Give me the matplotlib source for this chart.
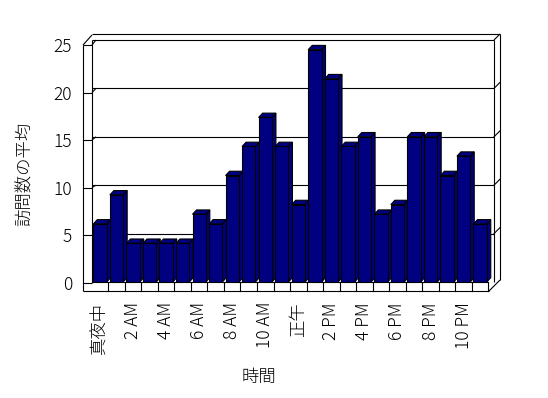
import matplotlib
matplotlib.use('Agg')
import matplotlib.pyplot as plt
from matplotlib.patches import Polygon

# ---- data ----
hours = list(range(24))
tick_labels = ['真夜中', '2 AM', '4 AM', '6 AM', '8 AM', '10 AM',
               '正午', '2 PM', '4 PM', '6 PM', '8 PM', '10 PM']
visits = [6, 9, 4, 4, 4, 4, 7, 6, 11, 14, 17, 14,
          8, 24, 21, 14, 15, 7, 8, 15, 15, 11, 13, 6]
y_ticks = [0, 5, 10, 15, 20, 25]

plt.rcParams['font.family'] = ['Noto Sans CJK JP', 'DejaVu Sans']
plt.rcParams['font.weight'] = 'light'

W, H = 548, 398
fig = plt.figure(figsize=(W / 100, H / 100), dpi=100)
fig.patch.set_facecolor('white')
LW = 0.8
NAVY = '#000080'
FS = 12.5


def fr(x0, y0, x1, y1):
    return [x0 / W, 1 - y1 / H, (x1 - x0) / W, (y1 - y0) / H]


# background frame (pixel coords)
bg = fig.add_axes([0, 0, 1, 1])
bg.set_xlim(0, W)
bg.set_ylim(H, 0)
bg.axis('off')


def seg(p, q):
    bg.plot([p[0], q[0]], [p[1], q[1]], color='black', lw=LW, solid_capstyle='butt')


seg((83, 45), (83, 291))
seg((83, 45), (92, 35))
seg((92, 34), (500, 34))
seg((500, 34), (500, 280))
seg((489, 291), (500, 280))
seg((83, 291), (489, 291))
seg((92, 40), (92, 282))
seg((92, 40), (494, 40))
seg((494, 40), (494, 282))
seg((494, 40), (500, 34))

# main axes = back wall plane
AX_L, AX_T, AX_R, AX_B = 92, 40, 494, 282
ax = fig.add_axes(fr(AX_L, AX_T, AX_R, AX_B))
XMIN, XMAX = -0.484, 23.84
ax.set_xlim(XMIN, XMAX)
ax.set_ylim(0, 25)
ax.set_frame_on(False)
ax.patch.set_visible(False)

px_x = (XMAX - XMIN) / (AX_R - AX_L)   # data x per pixel
px_y = 25 / (AX_B - AX_T)              # data y per pixel

for v in y_ticks[1:-1]:
    ax.plot([XMIN, XMAX], [v, v], color='black', lw=LW, zorder=1)
    ax.plot([XMAX, XMAX + 6 * px_x], [v, v + 6 * px_y], color='black', lw=LW,
            clip_on=False, zorder=1)

# floor strip
strip = 9 * px_y
ax.plot([XMIN, len(hours) - 0.5], [0, 0], color='black', lw=LW, clip_on=False, zorder=1)
for i in hours:
    b = i + 0.5
    ax.plot([b, b], [0, -strip], color='black', lw=LW, clip_on=False, zorder=1)

# bars
bw = 0.805
dx = 4 * px_x
dy = 4.3 * px_y
for x, v in zip(hours, visits):
    r = x + bw / 2
    l = x - bw / 2
    side = Polygon([(r, 0), (r + dx, dy), (r + dx, v + dy), (r, v)],
                   closed=True, facecolor=NAVY, edgecolor='black', lw=LW, zorder=2)
    top = Polygon([(l, v), (r, v), (r + dx, v + dy), (l + dx, v + dy)],
                  closed=True, facecolor=NAVY, edgecolor='black', lw=LW, zorder=2)
    ax.add_patch(side)
    ax.add_patch(top)
ax.bar(hours, visits, width=bw, color=NAVY, edgecolor='black', linewidth=LW, zorder=3)

ax.set_xticks(hours[::2])
ax.set_xticklabels(tick_labels, rotation=90, fontsize=FS)
ax.set_yticks([])
ax.tick_params(axis='x', length=0, pad=20 * 0.72)

# front plane (y tick labels)
FA_T, FA_B = 45, 282.5
fa = fig.add_axes(fr(83, FA_T, 92, FA_B))
fa.set_ylim(0, 25)
fa.set_xlim(0, 1)
fa.set_frame_on(False)
fa.patch.set_visible(False)
fa.set_xticks([])
fa.set_yticks(y_ticks)
fa.set_yticklabels([str(t) for t in y_ticks], fontsize=FS)
fa.tick_params(axis='y', direction='in', length=9 * 0.72, width=LW, pad=8)

# diagonals from front ticks to back wall
for v in y_ticks[1:]:
    yf = FA_B - v * (FA_B - FA_T) / 25
    yb = AX_B - v * (AX_B - AX_T) / 25
    seg((92, yf), (96, yb))

fig.text(259 / W, 1 - 377 / H, '時間', ha='center', va='center', fontsize=FS)
fig.text(25 / W, 1 - 174 / H, '訪問数の平均', rotation=90, ha='center', va='center', fontsize=FS)

fig.savefig('out.png', dpi=100)
